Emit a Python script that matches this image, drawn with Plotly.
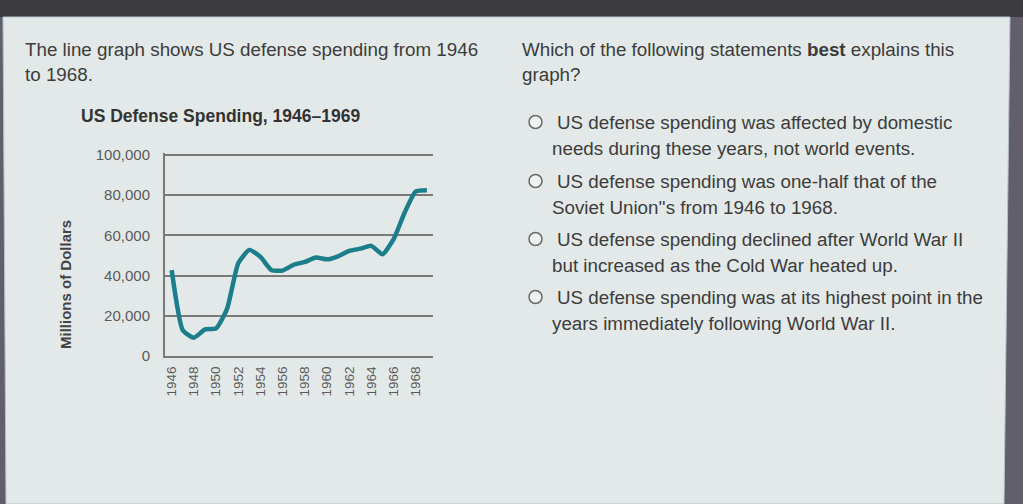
import plotly.graph_objects as go

# data
years = list(range(1946, 1970))
spending = [42700, 12800, 9100, 13200, 13700, 23600, 46100, 52800, 49300, 42700,
            42500, 45400, 46800, 49000, 48100, 49600, 52300, 53400, 54800, 50600,
            58100, 71400, 81900, 82500]
year_ticks = list(range(1946, 1970, 2))
value_ticks = [0, 20000, 40000, 60000, 80000, 100000]
value_labels = ["0", "20,000", "40,000", "60,000", "80,000", "100,000"]

question_lines = ["Which of the following statements <b>best</b> explains this", "graph?"]
intro_lines = ["The line graph shows US defense spending from 1946", "to 1968."]
options = [
    ("US defense spending was affected by domestic", "needs during these years, not world events."),
    ("US defense spending was one-half that of the", "Soviet Union''s from 1946 to 1968."),
    ("US defense spending declined after World War II", "but increased as the Cold War heated up."),
    ("US defense spending was at its highest point in the", "years immediately following World War II."),
]

W, H = 1023, 504
TEXT = "#3c3c3c"
FONT = "Liberation Sans, Arial, sans-serif"


def px(x):
    return x / W


def py(y):
    return 1 - y / H


fig = go.Figure()
fig.add_trace(go.Scatter(
    x=years, y=spending, mode="lines",
    line=dict(color="#1c7d8b", width=4.5, shape="spline", smoothing=0.5),
    hoverinfo="skip", showlegend=False,
))

# screen frame and the (slightly skewed) page panel
panel = "M {:.5f} {:.5f} L {:.5f} {:.5f} L {:.5f} {:.5f} L {:.5f} {:.5f} Z".format(
    px(3), py(17), px(1010), py(17), px(1004), py(504), px(6), py(504))
shapes = [
    dict(type="rect", xref="paper", yref="paper", x0=0, x1=1, y0=py(17), y1=1,
         fillcolor="#3b3b3d", line=dict(width=0), layer="below"),
    dict(type="path", xref="paper", yref="paper", path=panel,
         fillcolor="#e3e9e8", line=dict(color="#b4c0cc", width=1), layer="below"),
]
annotations = []

for i, t in enumerate(intro_lines):
    annotations.append(dict(text=t, x=px(23), y=py(50 + i * 24)))
for i, t in enumerate(question_lines):
    annotations.append(dict(text=t, x=px(520), y=py(50 + i * 24)))

opt_y = [122, 181, 239, 297]
for (l1, l2), oy in zip(options, opt_y):
    shapes.append(dict(type="circle", xref="paper", yref="paper",
                       x0=px(529), x1=px(542), y0=py(oy + 6.5), y1=py(oy - 6.5),
                       line=dict(color="#6a6a6a", width=1.5), fillcolor="#eef2f2"))
    annotations.append(dict(text=l1, x=px(555), y=py(oy)))
    annotations.append(dict(text=l2, x=px(550), y=py(oy + 26)))

for a in annotations:
    a.update(xref="paper", yref="paper", xanchor="left", yanchor="middle",
             showarrow=False, font=dict(family=FONT, size=18.8, color=TEXT))

annotations.append(dict(text="<b>US Defense Spending, 1946\u20131969</b>", x=px(79), y=py(116),
                        xref="paper", yref="paper", xanchor="left", yanchor="middle",
                        showarrow=False, font=dict(family=FONT, size=17.5, color="#333")))
annotations.append(dict(text="<b>Millions of Dollars</b>", x=px(65), y=py(285), textangle=-90,
                        xref="paper", yref="paper", xanchor="center", yanchor="middle",
                        showarrow=False, font=dict(family=FONT, size=15, color="#444")))

fig.update_layout(
    width=W, height=H,
    margin=dict(l=0, r=0, t=0, b=0, pad=0, autoexpand=False),
    paper_bgcolor="#605f6b",
    plot_bgcolor="rgba(0,0,0,0)",
    showlegend=False,
    shapes=shapes,
    annotations=annotations,
    xaxis=dict(domain=[px(165), px(433)], range=[1945.4, 1969.55], automargin=False,
               tickvals=year_ticks, tickangle=-90, showgrid=False, zeroline=False,
               showline=True, linecolor="#7a7a7a", linewidth=2, ticklabelstandoff=3,
               tickfont=dict(family=FONT, size=13.5, color="#5a5a5a")),
    yaxis=dict(domain=[py(356), py(153)], range=[0, 101000], automargin=False,
               tickvals=value_ticks, ticktext=value_labels,
               showgrid=True, gridcolor="#7a7a7a", gridwidth=2, zeroline=False,
               showline=True, linecolor="#7a7a7a", linewidth=2, ticklabelstandoff=10,
               tickfont=dict(family=FONT, size=15, color="#5a5a5a")),
)

fig.write_html("out.html", config={"displayModeBar": False},
               post_script="document.body.style.margin='0';")
